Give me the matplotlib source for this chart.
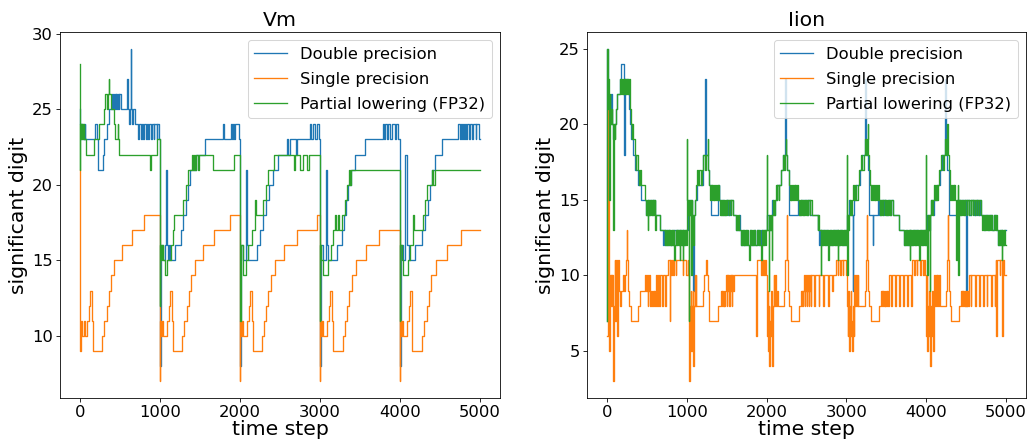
import matplotlib
matplotlib.use("Agg")
import matplotlib.pyplot as plt

# ---------------- data: (time step, significant digits) breakpoints ----------------
series_labels = ["Double precision", "Single precision", "Partial lowering (FP32)"]
x_ticks = [0, 1000, 2000, 3000, 4000, 5000]
t_end = 5000

vm_double = [
    (0, 25), (4, 24), (10, 23), (25, 24), (32, 23), (45, 24), (52, 23), (60, 24), (68, 23),
    (188, 24), (208, 23), (221, 21), (283, 22), (300, 23), (333, 24), (367, 25), (396, 26),
    (412, 25), (420, 26), (430, 25), (437, 26), (447, 25), (455, 26), (465, 25), (472, 26),
    (485, 25), (492, 26), (508, 25), (583, 27), (596, 25), (615, 24), (625, 25), (633, 29),
    (640, 25), (655, 24), (665, 25), (688, 24), (720, 23), (732, 24), (762, 23), (772, 24),
    (790, 23), (800, 24), (822, 23), (832, 24), (852, 23), (862, 24), (885, 23), (895, 24),
    (920, 23), (930, 24), (960, 23), (968, 24), (985, 23),
    (1000, 8), (1008, 16), (1033, 15), (1062, 16), (1075, 21), (1083, 16), (1100, 15),
    (1112, 16), (1125, 15), (1187, 16), (1258, 17), (1292, 18), (1321, 19), (1354, 20),
    (1375, 21), (1450, 22), (1562, 23), (1792, 24), (1800, 23), (1883, 24), (1896, 23),
    (1917, 24), (1925, 23), (1937, 24), (1983, 23),
    (2000, 8), (2012, 16), (2033, 15), (2075, 21), (2090, 16), (2105, 15), (2208, 16),
    (2250, 17), (2283, 18), (2325, 19), (2367, 20), (2417, 21), (2479, 22), (2583, 23),
    (2600, 22), (2625, 23), (2700, 22), (2710, 23), (2875, 24), (2883, 23), (2917, 24),
    (2937, 23), (2958, 24), (2983, 23),
    (3000, 8), (3012, 16), (3042, 15), (3071, 21), (3083, 16), (3105, 15), (3208, 16),
    (3271, 17), (3300, 18), (3325, 19), (3350, 20), (3390, 21), (3437, 22), (3560, 23),
    (3783, 24), (3800, 23), (3812, 24), (3833, 23), (3846, 24), (3875, 23), (3900, 24),
    (3937, 23), (3950, 24), (3975, 23),
    (4000, 8), (4010, 16), (4035, 15), (4062, 22), (4083, 16), (4110, 15), (4187, 16),
    (4271, 17), (4312, 18), (4346, 19), (4375, 20), (4404, 21), (4437, 22), (4521, 23),
    (4729, 24), (4745, 23), (4760, 24), (4775, 23), (4785, 24), (4800, 23), (4812, 24),
    (4830, 23), (4840, 24), (4865, 23), (4880, 24), (4905, 23), (4915, 24), (4945, 23),
    (4955, 24), (4985, 23),
]

vm_single = [
    (0, 21), (2, 9), (8, 11), (21, 10), (46, 11), (58, 10), (92, 11), (108, 12), (125, 13),
    (146, 11), (158, 9), (270, 10), (304, 11), (333, 12), (360, 13), (388, 14), (430, 15),
    (520, 16), (645, 17), (798, 18),
    (1000, 7), (1004, 11), (1012, 10), (1025, 11), (1037, 10), (1092, 11), (1108, 12),
    (1125, 13), (1146, 11), (1160, 9), (1271, 10), (1300, 11), (1333, 12), (1362, 13),
    (1387, 14), (1437, 15), (1542, 16), (1679, 17), (1879, 18),
    (2000, 7), (2004, 11), (2012, 10), (2025, 11), (2037, 10), (2092, 11), (2108, 12),
    (2125, 13), (2146, 11), (2158, 9), (2275, 10), (2300, 11), (2325, 12), (2354, 13),
    (2387, 14), (2437, 15), (2550, 16), (2708, 17), (2967, 18),
    (3000, 7), (3004, 11), (3012, 10), (3025, 11), (3037, 10), (3092, 11), (3108, 12),
    (3125, 13), (3146, 11), (3158, 9), (3283, 10), (3312, 11), (3342, 12), (3367, 13),
    (3400, 14), (3446, 15), (3571, 16), (3742, 17),
    (4000, 7), (4004, 11), (4012, 10), (4025, 11), (4037, 10), (4092, 11), (4108, 12),
    (4125, 13), (4146, 11), (4154, 9), (4279, 10), (4304, 11), (4333, 12), (4362, 13),
    (4387, 14), (4450, 15), (4583, 16), (4762, 17),
]

vm_partial = [
    (0, 28), (2, 21), (3, 24), (8, 23), (12, 24), (22, 23), (28, 24), (40, 23), (45, 24),
    (55, 23), (70, 22), (171, 23), (233, 24), (296, 25), (317, 26), (340, 25), (345, 26),
    (358, 27), (368, 26), (392, 25), (421, 24), (442, 23), (470, 24), (476, 23), (483, 22),
    (876, 21), (882, 22), (962, 23),
    (1000, 12), (1004, 16), (1015, 15), (1025, 16), (1040, 15), (1067, 14), (1090, 15),
    (1140, 16), (1165, 17), (1180, 18), (1290, 19), (1320, 20), (1355, 21), (1400, 22),
    (1415, 21), (1425, 22), (1440, 21), (1455, 22), (1470, 21), (1482, 22), (1658, 21),
    (1920, 22),
    (2000, 11), (2008, 16), (2042, 14), (2075, 15), (2104, 16), (2146, 17), (2187, 19),
    (2196, 18), (2292, 19), (2325, 20), (2354, 21), (2420, 22), (2670, 21), (2687, 22),
    (2750, 21), (2783, 22), (2833, 21), (2867, 22),
    (3000, 11), (3004, 16), (3015, 15), (3042, 14), (3104, 15), (3133, 16), (3167, 17),
    (3190, 18), (3200, 17), (3230, 18), (3240, 17), (3271, 18), (3312, 19), (3342, 20),
    (3367, 21), (3375, 20), (3387, 21),
    (4000, 11), (4004, 16), (4020, 15), (4042, 14), (4104, 15), (4125, 16), (4162, 18),
    (4179, 17), (4287, 18), (4312, 19), (4340, 20), (4395, 21), (4410, 20), (4437, 21),
]

iion_double = [
    (0, 7), (4, 25), (10, 21), (16, 22), (22, 20), (30, 21), (40, 20), (55, 22), (65, 20),
    (80, 19), (90, 20), (118, 21), (130, 22), (165, 23), (180, 24), (208, 23), (215, 18),
    (222, 23), (232, 22), (240, 23), (260, 22), (270, 21), (283, 20), (300, 19), (325, 18),
    (346, 17), (388, 16), (430, 15), (492, 14), (510, 15), (525, 14), (545, 15), (560, 14),
    (580, 15), (600, 14), (659, 13), (700, 12), (710, 13), (725, 12), (740, 13), (760, 12),
    (775, 13), (795, 12), (810, 13), (830, 12), (845, 13), (865, 12), (880, 13), (900, 12),
    (915, 13), (935, 12), (950, 13), (968, 12), (980, 13),
    (1000, 13), (1010, 15), (1025, 14), (1045, 15), (1062, 14), (1080, 9), (1088, 14),
    (1097, 15), (1126, 16), (1200, 18), (1226, 23), (1243, 18), (1264, 17), (1280, 16),
    (1305, 14), (1389, 15), (1400, 16), (1409, 15), (1430, 14), (1445, 15), (1470, 14),
    (1490, 15), (1520, 14), (1540, 15), (1576, 14), (1618, 13), (1650, 14), (1665, 13),
    (1681, 12), (1700, 13), (1720, 12), (1740, 13), (1760, 12), (1790, 13), (1810, 12),
    (1840, 13), (1860, 12), (1880, 13), (1910, 12), (1930, 13), (1950, 12), (1970, 13),
    (2000, 13), (2010, 14), (2030, 13), (2050, 14), (2070, 15), (2085, 14), (2100, 15),
    (2130, 16), (2180, 17), (2210, 18), (2231, 23), (2240, 18), (2260, 17), (2275, 16),
    (2285, 14), (2390, 15), (2410, 14), (2425, 15), (2450, 14), (2470, 15), (2500, 14),
    (2520, 15), (2550, 14), (2640, 13), (2660, 12), (2675, 13), (2690, 12), (2710, 13),
    (2730, 12), (2750, 13), (2770, 12), (2790, 13), (2810, 12), (2835, 13), (2855, 12),
    (2875, 13), (2900, 12), (2920, 13), (2945, 12), (2965, 13), (2985, 12),
    (3000, 13), (3010, 14), (3030, 15), (3050, 14), (3077, 9), (3083, 14), (3100, 15),
    (3120, 16), (3170, 17), (3200, 18), (3232, 23), (3245, 18), (3265, 17), (3280, 16),
    (3286, 14), (3328, 12), (3335, 14), (3390, 15), (3410, 14), (3430, 15), (3455, 14),
    (3475, 15), (3500, 14), (3520, 15), (3545, 14), (3560, 15), (3578, 14), (3661, 13),
    (3724, 12), (3745, 13), (3765, 12), (3785, 13), (3810, 12), (3830, 13), (3855, 12),
    (3875, 13), (3900, 12), (3920, 13), (3945, 12), (3965, 13), (3985, 12),
    (4000, 13), (4010, 14), (4030, 13), (4045, 14), (4060, 15), (4080, 14), (4100, 15),
    (4130, 16), (4170, 17), (4200, 18), (4233, 23), (4245, 18), (4265, 17), (4280, 16),
    (4290, 14), (4390, 15), (4420, 14), (4440, 15), (4470, 14), (4490, 15), (4504, 8),
    (4512, 15), (4540, 14), (4560, 15), (4600, 14), (4620, 15), (4650, 14), (4670, 15),
    (4690, 14), (4720, 13), (4740, 14), (4770, 13), (4790, 14), (4820, 13), (4850, 14),
    (4880, 13), (4900, 12), (4925, 13), (4950, 12), (4970, 13),
]

iion_single = [
    (0, 6), (8, 15), (18, 21), (24, 10), (29, 5), (33, 6), (37, 10), (45, 8), (52, 10),
    (58, 8), (64, 10), (70, 7), (80, 3), (86, 8), (100, 11), (104, 7), (110, 8), (118, 11),
    (122, 8), (130, 6), (136, 8), (140, 11), (146, 9), (160, 8), (180, 9), (200, 10),
    (215, 9), (225, 10), (235, 11), (246, 13), (254, 11), (262, 10), (267, 9), (275, 8),
    (304, 7), (388, 8), (409, 9), (480, 10), (492, 9), (500, 10), (508, 8), (515, 10),
    (520, 9), (527, 10), (534, 9), (545, 8), (552, 9), (565, 8), (572, 9), (585, 8),
    (595, 9), (605, 8), (617, 10), (630, 8), (636, 10), (655, 8), (662, 10), (690, 8),
    (696, 10), (730, 8), (736, 10), (763, 11), (784, 7), (790, 11), (800, 10), (810, 11),
    (830, 10), (840, 11), (860, 10), (870, 11), (950, 10), (955, 11), (992, 10),
    (1010, 11), (1020, 10), (1030, 3), (1036, 8), (1042, 6), (1048, 9), (1055, 5),
    (1062, 8), (1068, 6), (1075, 9), (1084, 4), (1090, 8), (1097, 10), (1105, 8),
    (1112, 10), (1120, 8), (1201, 9), (1215, 10), (1235, 11), (1250, 10), (1264, 9),
    (1276, 8), (1284, 7), (1389, 8), (1430, 9), (1440, 8), (1447, 9), (1455, 8), (1462, 9),
    (1470, 8), (1480, 9), (1493, 10), (1500, 8), (1506, 10), (1515, 9), (1522, 10),
    (1530, 8), (1537, 10), (1548, 9), (1555, 10), (1563, 8), (1570, 10), (1580, 9),
    (1590, 10), (1868, 6), (1875, 11), (1931, 10), (1938, 11), (1950, 10), (1957, 11),
    (1968, 10), (1975, 11), (1990, 10),
    (2005, 6), (2012, 9), (2020, 5), (2028, 8), (2035, 4), (2042, 7), (2050, 6), (2058, 9),
    (2065, 5), (2072, 4), (2080, 8), (2090, 10), (2098, 8), (2110, 10), (2118, 8),
    (2130, 9), (2140, 8), (2223, 9), (2235, 11), (2252, 14), (2258, 11), (2264, 9),
    (2285, 8), (2306, 7), (2410, 8), (2431, 9), (2440, 8), (2447, 9), (2455, 8), (2462, 9),
    (2470, 10), (2478, 8), (2485, 9), (2495, 10), (2503, 8), (2510, 9), (2520, 10),
    (2528, 8), (2535, 9), (2545, 10), (2553, 8), (2560, 10), (2600, 8), (2606, 10),
    (2652, 8), (2658, 10), (2712, 8), (2718, 10), (2770, 8), (2776, 10), (2820, 9),
    (2826, 10), (2869, 11), (2890, 10), (2896, 11), (2920, 10), (2930, 11), (2955, 10),
    (2962, 11), (2994, 10),
    (3008, 8), (3015, 6), (3022, 9), (3030, 5), (3040, 8), (3048, 6), (3055, 9), (3062, 7),
    (3070, 5), (3077, 8), (3090, 6), (3098, 10), (3110, 8), (3119, 10), (3130, 8),
    (3140, 10), (3150, 8), (3232, 9), (3240, 11), (3253, 14), (3258, 11), (3265, 9),
    (3285, 8), (3307, 7), (3411, 8), (3432, 9), (3440, 8), (3448, 9), (3456, 8), (3464, 9),
    (3472, 8), (3480, 9), (3488, 8), (3496, 9), (3504, 8), (3512, 9), (3520, 8),
    (3536, 10), (3560, 8), (3566, 10), (3610, 8), (3616, 10), (3660, 8), (3666, 10),
    (3712, 8), (3718, 10), (3760, 8), (3766, 10), (3810, 8), (3816, 10), (3828, 11),
    (3850, 10), (3856, 11), (3880, 10), (3890, 11), (3920, 10), (3930, 11), (3960, 10),
    (3968, 11), (3985, 10),
    (3995, 6), (4005, 10), (4012, 5), (4020, 8), (4028, 6), (4035, 9), (4045, 5),
    (4052, 4), (4060, 8), (4068, 6), (4075, 9), (4085, 5), (4092, 8), (4099, 10),
    (4110, 8), (4120, 10), (4130, 8), (4140, 10), (4150, 8), (4160, 10), (4170, 8),
    (4245, 9), (4258, 11), (4270, 14), (4276, 11), (4282, 9), (4295, 8), (4307, 7),
    (4412, 8), (4433, 9), (4442, 8), (4450, 9), (4458, 8), (4466, 9), (4474, 8), (4482, 9),
    (4490, 8), (4498, 9), (4506, 8), (4514, 9), (4522, 8), (4537, 10), (4560, 8),
    (4566, 10), (4615, 8), (4621, 10), (4665, 8), (4671, 10), (4712, 8), (4718, 10),
    (4760, 8), (4766, 10), (4812, 8), (4818, 10), (4860, 8), (4866, 10), (4871, 11),
    (4879, 6), (4885, 11), (4920, 10), (4930, 11), (4954, 6), (4960, 11), (4975, 10),
]

iion_partial = [
    (0, 7), (4, 25), (10, 21), (14, 23), (20, 21), (26, 15), (32, 22), (44, 21), (50, 20),
    (58, 21), (64, 20), (72, 19), (80, 13), (86, 20), (96, 19), (104, 20), (118, 21),
    (130, 22), (165, 23), (172, 22), (180, 23), (190, 22), (196, 23), (205, 22), (212, 23),
    (222, 22), (230, 23), (240, 22), (248, 23), (262, 22), (272, 23), (283, 21), (304, 20),
    (312, 19), (318, 20), (325, 19), (346, 18), (360, 17), (368, 18), (388, 17), (400, 16),
    (408, 17), (430, 16), (471, 15), (492, 14), (500, 15), (513, 13), (520, 15), (530, 14),
    (540, 15), (550, 14), (560, 15), (572, 14), (582, 15), (592, 14), (600, 15), (608, 13),
    (614, 14), (659, 13), (721, 12), (730, 13), (738, 12), (748, 13), (755, 12), (765, 13),
    (772, 12), (782, 13), (790, 12), (800, 13), (808, 12), (818, 13), (828, 12), (838, 13),
    (846, 11), (852, 12), (862, 13), (872, 12), (882, 13), (892, 12), (900, 13), (909, 11),
    (915, 13), (925, 12), (935, 13), (951, 11), (957, 13), (965, 12), (975, 13), (985, 12),
    (1000, 19), (1006, 15), (1020, 14), (1026, 7), (1032, 15), (1040, 14), (1048, 15),
    (1055, 10), (1062, 15), (1070, 14), (1078, 12), (1085, 14), (1097, 15), (1110, 16),
    (1126, 17), (1140, 16), (1150, 17), (1175, 16), (1185, 17), (1200, 18), (1225, 17),
    (1243, 18), (1262, 19), (1268, 17), (1280, 16), (1293, 15), (1300, 16), (1310, 15),
    (1318, 16), (1328, 15), (1336, 16), (1346, 15), (1355, 16), (1365, 15), (1375, 16),
    (1385, 15), (1395, 16), (1409, 15), (1420, 14), (1428, 15), (1440, 14), (1448, 15),
    (1460, 14), (1468, 15), (1480, 14), (1488, 15), (1500, 14), (1510, 15), (1525, 14),
    (1535, 15), (1550, 14), (1560, 15), (1576, 14), (1618, 13), (1628, 14), (1640, 13),
    (1650, 14), (1660, 13), (1681, 12), (1690, 13), (1700, 12), (1712, 13), (1722, 12),
    (1732, 13), (1745, 12), (1755, 13), (1770, 12), (1785, 11), (1792, 13), (1805, 12),
    (1815, 13), (1830, 12), (1845, 13), (1860, 12), (1875, 13), (1890, 12), (1905, 13),
    (1920, 12), (1931, 11), (1938, 13), (1950, 12), (1962, 13), (1975, 12), (1988, 13),
    (2000, 13), (2002, 18), (2010, 13), (2027, 9), (2033, 14), (2045, 13), (2055, 14),
    (2062, 11), (2068, 14), (2080, 15), (2090, 14), (2100, 15), (2115, 16), (2125, 15),
    (2135, 16), (2150, 15), (2160, 16), (2175, 17), (2200, 18), (2215, 17), (2225, 18),
    (2240, 19), (2246, 18), (2260, 17), (2275, 16), (2290, 15), (2300, 16), (2310, 15),
    (2320, 16), (2330, 15), (2340, 16), (2350, 15), (2360, 16), (2372, 15), (2382, 16),
    (2395, 15), (2405, 14), (2413, 15), (2425, 14), (2433, 15), (2445, 14), (2455, 15),
    (2470, 14), (2478, 15), (2490, 14), (2500, 15), (2515, 14), (2525, 15), (2540, 14),
    (2550, 15), (2565, 14), (2640, 13), (2650, 14), (2660, 13), (2681, 10), (2687, 13),
    (2700, 12), (2712, 13), (2722, 12), (2735, 13), (2748, 12), (2760, 13), (2772, 11),
    (2778, 13), (2790, 12), (2802, 13), (2815, 12), (2828, 13), (2840, 12), (2852, 13),
    (2865, 12), (2878, 13), (2890, 11), (2896, 13), (2910, 12), (2922, 13), (2935, 12),
    (2948, 13), (2960, 12), (2972, 13), (2985, 12),
    (3000, 13), (3002, 18), (3008, 10), (3014, 14), (3025, 13), (3035, 14), (3045, 15),
    (3060, 14), (3070, 15), (3085, 16), (3095, 15), (3110, 16), (3125, 15), (3140, 16),
    (3160, 17), (3185, 18), (3200, 17), (3215, 18), (3232, 19), (3245, 18), (3258, 19),
    (3265, 20), (3272, 18), (3282, 17), (3292, 16), (3302, 15), (3312, 16), (3322, 15),
    (3332, 16), (3342, 15), (3352, 16), (3362, 15), (3372, 16), (3382, 15), (3395, 16),
    (3405, 15), (3415, 14), (3423, 15), (3435, 14), (3443, 15), (3455, 14), (3463, 15),
    (3478, 14), (3486, 15), (3500, 14), (3510, 15), (3525, 14), (3535, 15), (3550, 14),
    (3560, 15), (3578, 14), (3661, 13), (3724, 12), (3735, 13), (3745, 12), (3758, 13),
    (3770, 12), (3782, 13), (3795, 11), (3801, 13), (3815, 12), (3828, 13), (3840, 12),
    (3852, 13), (3865, 12), (3878, 13), (3890, 12), (3902, 13), (3914, 11), (3920, 13),
    (3933, 12), (3945, 13), (3958, 12), (3970, 13), (3982, 12),
    (3995, 18), (4002, 13), (4010, 10), (4016, 14), (4025, 13), (4035, 14), (4045, 9),
    (4052, 14), (4062, 15), (4072, 14), (4082, 15), (4095, 16), (4105, 15), (4120, 16),
    (4135, 15), (4150, 16), (4165, 17), (4190, 18), (4205, 17), (4220, 18), (4240, 19),
    (4252, 18), (4260, 19), (4266, 20), (4272, 18), (4282, 17), (4292, 16), (4302, 15),
    (4312, 16), (4322, 15), (4332, 16), (4342, 15), (4352, 16), (4362, 15), (4378, 11),
    (4385, 15), (4395, 16), (4403, 10), (4410, 15), (4420, 14), (4428, 15), (4440, 14),
    (4448, 15), (4460, 14), (4468, 15), (4480, 14), (4490, 15), (4505, 14), (4515, 15),
    (4530, 14), (4540, 15), (4555, 14), (4565, 15), (4580, 14), (4590, 15), (4605, 14),
    (4615, 15), (4630, 14), (4640, 15), (4655, 14), (4665, 15), (4690, 14), (4700, 13),
    (4710, 14), (4722, 13), (4735, 14), (4748, 13), (4760, 14), (4775, 13), (4788, 14),
    (4800, 13), (4815, 14), (4830, 13), (4845, 14), (4860, 13), (4875, 14), (4890, 13),
    (4900, 12), (4912, 13), (4924, 12), (4936, 13), (4948, 11), (4954, 13), (4965, 12),
    (4978, 13), (4990, 12),
]

panels = [
    ("Vm", [vm_double, vm_single, vm_partial], [10, 15, 20, 25, 30]),
    ("Iion", [iion_double, iion_single, iion_partial], [5, 10, 15, 20, 25]),
]

colors = ["#1f77b4", "#ff7f0e", "#2ca02c"]

# ---------------- figure ----------------
fig = plt.figure(figsize=(14, 6), dpi=73.5)
W, H = 1029, 441
axes_px = [(60, 32, 500, 398), (587, 32, 1026, 398)]

for (title, series, yticks), (x0, y0, x1, y1) in zip(panels, axes_px):
    ax = fig.add_axes([x0 / W, 1 - y1 / H, (x1 - x0) / W, (y1 - y0) / H])
    for data, lab, col in zip(series, series_labels, colors):
        t = [p[0] for p in data] + [t_end]
        v = [p[1] for p in data] + [data[-1][1]]
        ax.step(t, v, where="post", color=col, lw=1.3, label=lab)
    ax.set_title(title, fontsize=20)
    ax.set_xlabel("time step", fontsize=20, labelpad=0)
    ax.set_ylabel("significant digit", fontsize=20)
    ax.set_xticks(x_ticks)
    ax.set_yticks(yticks)
    ax.tick_params(labelsize=16)
    ax.legend(loc="upper right", fontsize=16, labelspacing=0.62)

fig.savefig("out.png", dpi=73.5)
